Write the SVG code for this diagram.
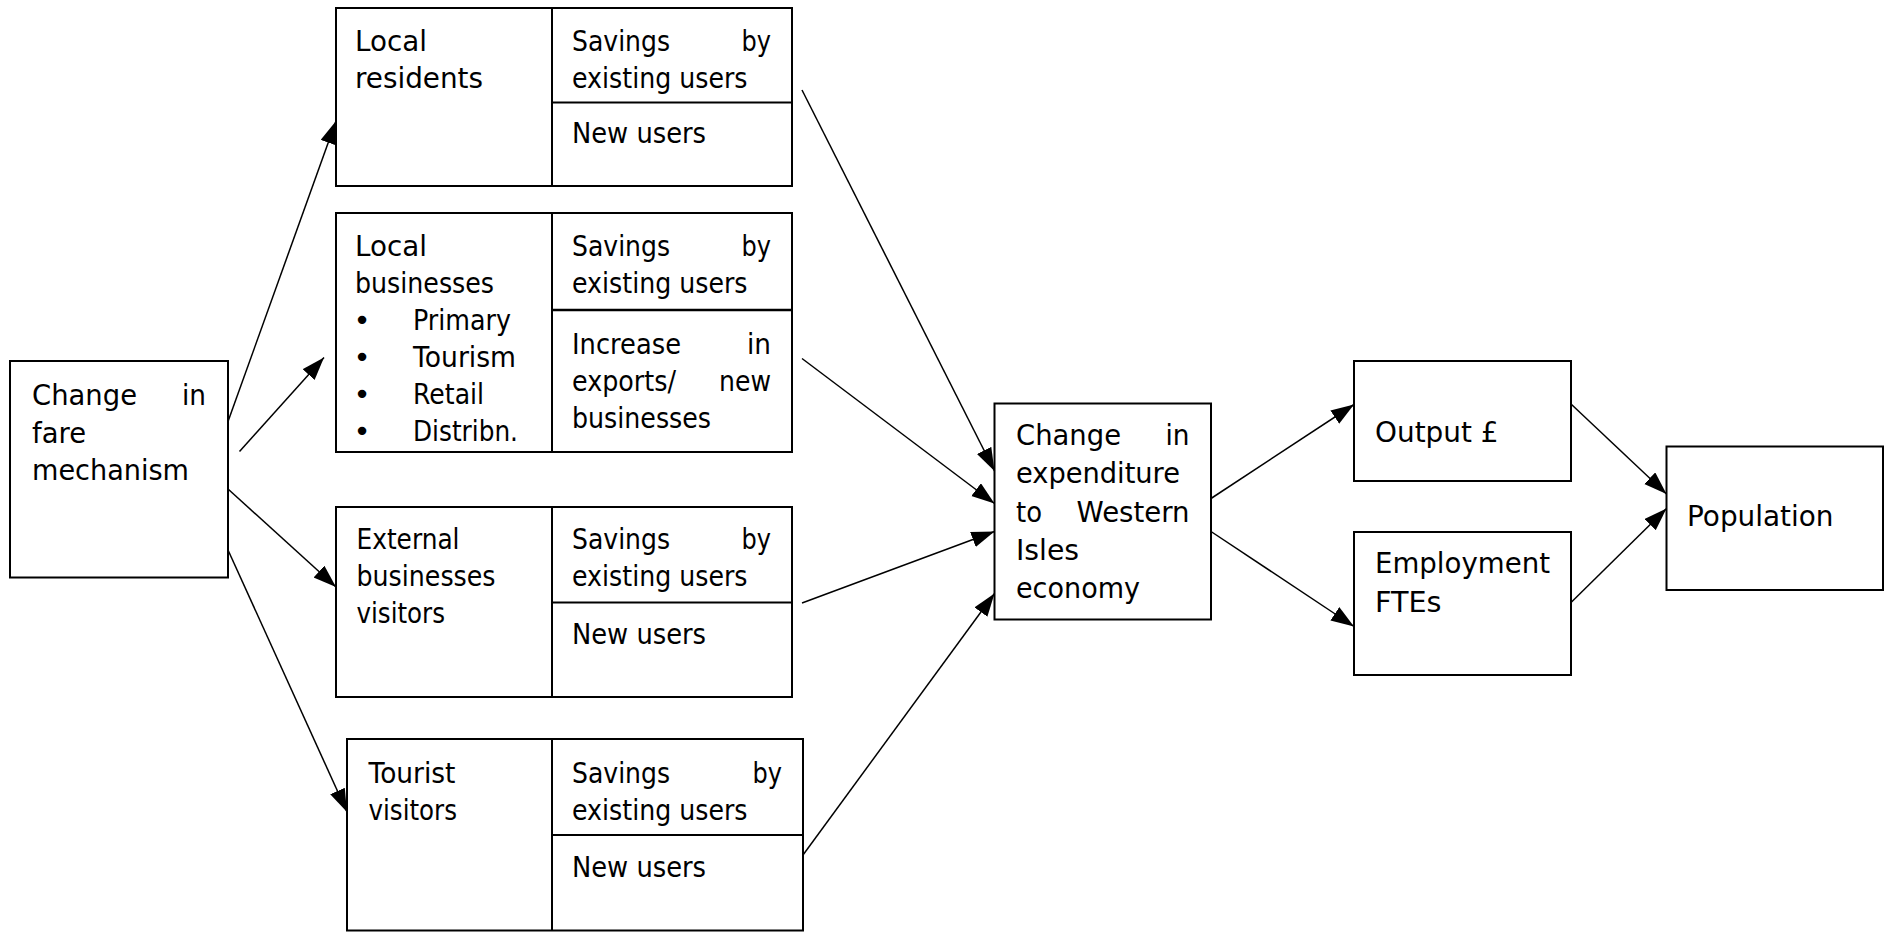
<svg xmlns="http://www.w3.org/2000/svg" width="1890" height="932" viewBox="0 0 1890 932">
<style>
.bg{fill:#fff}
.box{fill:#fff;stroke:#000;stroke-width:2}
.ln{stroke:#000;stroke-width:2;fill:none}
.t{font-family:"DejaVu Sans",Verdana,sans-serif;font-size:29px;fill:#000}
.e{text-anchor:end}
.m{text-anchor:middle}
.c{stroke:#000;stroke-width:1.5;fill:none;marker-end:url(#ah)}
</style>
<defs>
<marker id="ah" markerUnits="userSpaceOnUse" markerWidth="24" markerHeight="17" refX="23" refY="8" orient="auto">
<path d="M0,0 L23,8 L0,16 z" fill="#000"/>
</marker>
</defs>
<rect class="bg" x="0" y="0" width="1890" height="932"/>

<g id="fare">
<rect class="box" x="10" y="361" width="218" height="216.5"/>
<text class="t" x="32" y="405" textLength="105" lengthAdjust="spacingAndGlyphs">Change</text>
<text class="t e" x="206" y="405" textLength="24" lengthAdjust="spacingAndGlyphs">in</text>
<text class="t" x="32" y="442.5" textLength="54" lengthAdjust="spacingAndGlyphs">fare</text>
<text class="t" x="32" y="480" textLength="157" lengthAdjust="spacingAndGlyphs">mechanism</text>
</g>

<g id="local-residents">
<rect class="box" x="336" y="8" width="456" height="178"/>
<line class="ln" x1="552" y1="8" x2="552" y2="186"/>
<line class="ln" x1="552" y1="102.5" x2="792" y2="102.5"/>
<text class="t" x="355" y="50.5" textLength="72" lengthAdjust="spacingAndGlyphs">Local</text>
<text class="t" x="355" y="87.5" textLength="128" lengthAdjust="spacingAndGlyphs">residents</text>
<text class="t" x="572" y="50.5" textLength="98" lengthAdjust="spacingAndGlyphs">Savings</text>
<text class="t e" x="771" y="50.5" textLength="29.5" lengthAdjust="spacingAndGlyphs">by</text>
<text class="t" x="572" y="87.5" textLength="175.5" lengthAdjust="spacingAndGlyphs">existing users</text>
<text class="t" x="572" y="143" textLength="134" lengthAdjust="spacingAndGlyphs">New users</text>
</g>

<g id="local-businesses">
<rect class="box" x="336" y="213" width="456" height="239"/>
<line class="ln" x1="552" y1="213" x2="552" y2="452"/>
<line class="ln" x1="552" y1="310" x2="792" y2="310" style="stroke-width:2.5"/>
<text class="t" x="355" y="256" textLength="72" lengthAdjust="spacingAndGlyphs">Local</text>
<text class="t" x="355" y="293" textLength="139" lengthAdjust="spacingAndGlyphs">businesses</text>
<text class="t m" x="362" y="330">•</text>
<text class="t" x="413" y="330" textLength="98" lengthAdjust="spacingAndGlyphs">Primary</text>
<text class="t m" x="362" y="367">•</text>
<text class="t" x="413" y="367" textLength="103" lengthAdjust="spacingAndGlyphs">Tourism</text>
<text class="t m" x="362" y="404">•</text>
<text class="t" x="413" y="404" textLength="71" lengthAdjust="spacingAndGlyphs">Retail</text>
<text class="t m" x="362" y="441">•</text>
<text class="t" x="413" y="441" textLength="105" lengthAdjust="spacingAndGlyphs">Distribn.</text>
<text class="t" x="572" y="256" textLength="98" lengthAdjust="spacingAndGlyphs">Savings</text>
<text class="t e" x="771" y="256" textLength="29.5" lengthAdjust="spacingAndGlyphs">by</text>
<text class="t" x="572" y="293" textLength="175.5" lengthAdjust="spacingAndGlyphs">existing users</text>
<text class="t" x="572" y="353.5" textLength="109" lengthAdjust="spacingAndGlyphs">Increase</text>
<text class="t e" x="771" y="353.5" textLength="24" lengthAdjust="spacingAndGlyphs">in</text>
<text class="t" x="572" y="390.5" textLength="104" lengthAdjust="spacingAndGlyphs">exports/</text>
<text class="t e" x="771" y="390.5" textLength="52" lengthAdjust="spacingAndGlyphs">new</text>
<text class="t" x="572" y="427.5" textLength="139" lengthAdjust="spacingAndGlyphs">businesses</text>
</g>

<g id="external">
<rect class="box" x="336" y="507" width="456" height="190"/>
<line class="ln" x1="552" y1="507" x2="552" y2="697"/>
<line class="ln" x1="552" y1="602.5" x2="792" y2="602.5"/>
<text class="t" x="356.5" y="549" textLength="103" lengthAdjust="spacingAndGlyphs">External</text>
<text class="t" x="356.5" y="586" textLength="139" lengthAdjust="spacingAndGlyphs">businesses</text>
<text class="t" x="356.5" y="623" textLength="88.5" lengthAdjust="spacingAndGlyphs">visitors</text>
<text class="t" x="572" y="549" textLength="98" lengthAdjust="spacingAndGlyphs">Savings</text>
<text class="t e" x="771" y="549" textLength="29.5" lengthAdjust="spacingAndGlyphs">by</text>
<text class="t" x="572" y="586" textLength="175.5" lengthAdjust="spacingAndGlyphs">existing users</text>
<text class="t" x="572" y="644" textLength="134" lengthAdjust="spacingAndGlyphs">New users</text>
</g>

<g id="tourist">
<rect class="box" x="347" y="739" width="456" height="191.5"/>
<line class="ln" x1="552" y1="739" x2="552" y2="930.5"/>
<line class="ln" x1="552" y1="835" x2="803" y2="835"/>
<text class="t" x="368.5" y="782.5" textLength="87" lengthAdjust="spacingAndGlyphs">Tourist</text>
<text class="t" x="368.5" y="819.5" textLength="88.5" lengthAdjust="spacingAndGlyphs">visitors</text>
<text class="t" x="572" y="782.5" textLength="98" lengthAdjust="spacingAndGlyphs">Savings</text>
<text class="t e" x="782" y="782.5" textLength="29.5" lengthAdjust="spacingAndGlyphs">by</text>
<text class="t" x="572" y="819.5" textLength="175.5" lengthAdjust="spacingAndGlyphs">existing users</text>
<text class="t" x="572" y="876.5" textLength="134" lengthAdjust="spacingAndGlyphs">New users</text>
</g>

<g id="expenditure">
<rect class="box" x="994.5" y="403.5" width="216.5" height="216"/>
<text class="t" x="1016" y="445" textLength="105" lengthAdjust="spacingAndGlyphs">Change</text>
<text class="t e" x="1189.5" y="445" textLength="24" lengthAdjust="spacingAndGlyphs">in</text>
<text class="t" x="1016" y="483.3" textLength="164" lengthAdjust="spacingAndGlyphs">expenditure</text>
<text class="t" x="1016" y="521.6" textLength="26" lengthAdjust="spacingAndGlyphs">to</text>
<text class="t e" x="1189.5" y="521.6" textLength="113" lengthAdjust="spacingAndGlyphs">Western</text>
<text class="t" x="1016" y="560" textLength="63" lengthAdjust="spacingAndGlyphs">Isles</text>
<text class="t" x="1016" y="598.3" textLength="124" lengthAdjust="spacingAndGlyphs">economy</text>
</g>

<g id="output">
<rect class="box" x="1354" y="361" width="217" height="120"/>
<text class="t" x="1375" y="441.5" textLength="123.5" lengthAdjust="spacingAndGlyphs">Output £</text>
</g>

<g id="employment">
<rect class="box" x="1354" y="532" width="217" height="143"/>
<text class="t" x="1375" y="573" textLength="175" lengthAdjust="spacingAndGlyphs">Employment</text>
<text class="t" x="1375" y="611.5" textLength="66.5" lengthAdjust="spacingAndGlyphs">FTEs</text>
</g>

<g id="population">
<rect class="box" x="1666.5" y="446.5" width="216.5" height="143.5"/>
<text class="t" x="1687" y="525.5" textLength="146.5" lengthAdjust="spacingAndGlyphs">Population</text>
</g>

<g id="connectors">
<line class="c" x1="228" y1="421.5" x2="336" y2="121"/>
<line class="c" x1="239.5" y1="451.5" x2="324" y2="357.5"/>
<line class="c" x1="228" y1="489" x2="336" y2="587"/>
<line class="c" x1="228" y1="550" x2="347" y2="812"/>
<line class="c" x1="802" y1="90" x2="994.5" y2="471"/>
<line class="c" x1="802" y1="358.5" x2="994.5" y2="503.5"/>
<line class="c" x1="802" y1="603" x2="994.5" y2="531.5"/>
<line class="c" x1="803" y1="855" x2="994.5" y2="593.5"/>
<line class="c" x1="1211" y1="498.5" x2="1354" y2="404.5"/>
<line class="c" x1="1211" y1="531.5" x2="1354" y2="626.5"/>
<line class="c" x1="1571" y1="404" x2="1666.5" y2="494"/>
<line class="c" x1="1571" y1="602.5" x2="1666.5" y2="508.5"/>
</g>
</svg>
